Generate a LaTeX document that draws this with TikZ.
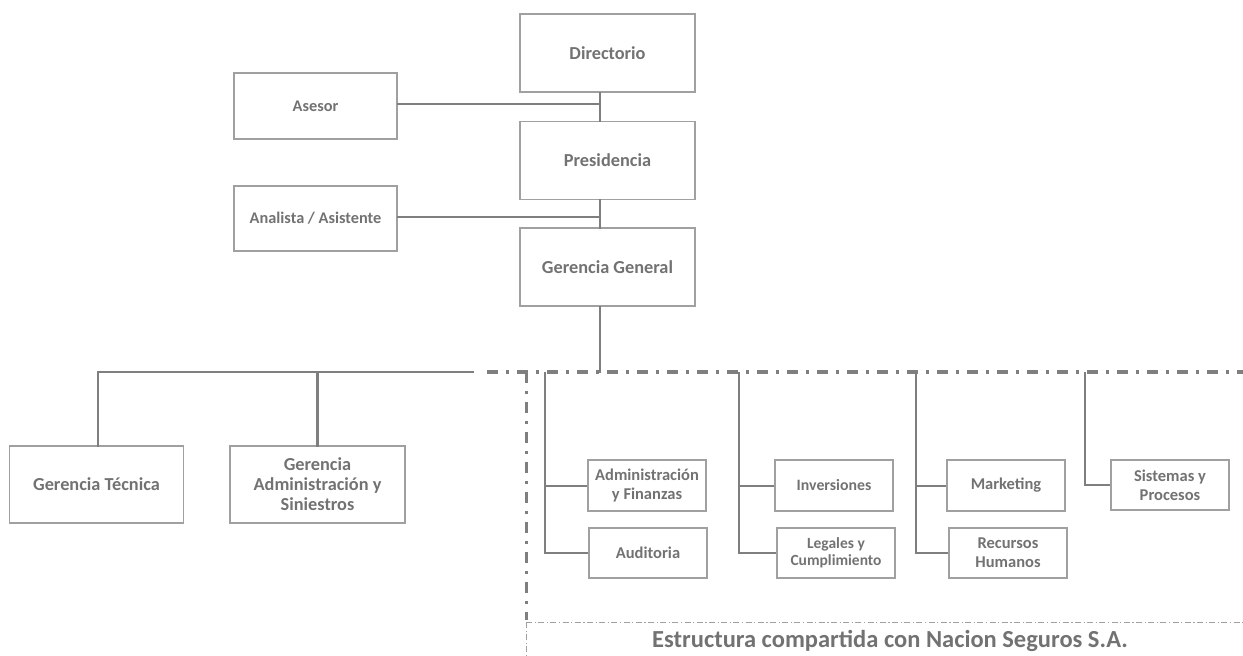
\documentclass[tikz,border=0pt]{standalone}
\usepackage{fontspec}
\setmainfont{Carlito}
\definecolor{txtgray}{HTML}{727272}
\definecolor{boxgray}{HTML}{A0A0A0}
\definecolor{lngray}{HTML}{7F7F7F}
\begin{document}
\begin{tikzpicture}[x=1pt,y=-1pt,
  box/.style={draw=boxgray,line width=1.4pt,rectangle,inner sep=0pt,align=center,
    text=txtgray,font=\bfseries},
  bigbox/.style={box,minimum width=175pt,minimum height=78pt,font=\fontsize{18.3}{20}\selectfont\bfseries},
  sidebox/.style={box,minimum width=163pt,minimum height=66pt,font=\fontsize{16.3}{19}\selectfont\bfseries},
  subbox/.style={box,minimum width=118pt,minimum height=51pt,font=\fontsize{16.5}{19}\selectfont\bfseries},
  conn/.style={draw=lngray,line width=2.4pt,line cap=rect},
  thinconn/.style={draw=lngray,line width=2pt},
  thickdd/.style={draw=lngray,line width=4pt,dash pattern=on 11pt off 8pt on 3pt off 8pt},
  vertdd/.style={draw=lngray,line width=3pt,dash pattern=on 11pt off 8pt on 3pt off 8pt},
  thindd/.style={draw=boxgray,line width=1pt,dash pattern=on 6pt off 2.5pt on 1.2pt off 2.5pt}]
\useasboundingbox (0,0) rectangle (1243,656);

% top chain
\node[bigbox] (dir) at (607.5,53) {Directorio};
\node[bigbox] (pres) at (607.5,160.5) {Presidencia};
\node[bigbox] (gg) at (607.5,267) {Gerencia General};
\node[sidebox] (ase) at (315.5,106) {Asesor};
\node[sidebox,minimum height=65pt] (ana) at (315.5,218.5) {Analista / Asistente};
\coordinate (sp) at (600,0);
\coordinate (hb) at (600,372);

\draw[conn] (dir.south -| sp) -- (pres.north -| sp);
\draw[conn] (pres.south -| sp) -- (gg.north -| sp);
\draw[conn] (gg.south -| sp) -- (hb);
\draw[conn] (ase.east |- 0,104) -- (sp |- 0,104);
\draw[conn] (ana.east |- 0,217) -- (sp |- 0,217);

% left managements
\node[bigbox,minimum width=174pt,minimum height=77pt] (gt) at (96.5,484.5) {Gerencia Técnica};
\node[bigbox,minimum height=77pt] (ga) at (317.5,484.5) {Gerencia\\Administración y\\Siniestros};
\coordinate (hl) at (98,372);
\coordinate (hr) at (473,372);
\draw[conn] (hl) -- (hr);
\draw[conn] (hl) -- (hl |- gt.north);
\draw[conn] (ga.north |- hl) -- (ga.north);

% dash-dot shared structure
\coordinate (ds) at (487,372);
\coordinate (de) at (1243,372);
\coordinate (vt) at (526,372);
\coordinate (vb) at (526,620);
\coordinate (tc) at (526,622);
\coordinate (tr) at (1243,622);
\coordinate (tb) at (526,656);
\draw[thickdd] (ds) -- (de);
\draw[vertdd] (vt) -- (vb);
\draw[thindd] (tc) -- (tr);
\draw[thindd] (tc) -- (tb);

% right boxes
\node[subbox] (adm) at (647,485.5) {Administración\\y Finanzas};
\node[subbox,minimum height=50pt] (aud) at (648,553) {Auditoria};
\node[subbox,font=\fontsize{15.8}{18}\selectfont\bfseries] (inv) at (834,485.5) {Inversiones};
\node[subbox,minimum height=50pt,font=\fontsize{15.5}{17}\selectfont\bfseries] (leg) at (836,553) {Legales y\\Cumplimiento};
\node[subbox] (mkt) at (1006,485.5) {Marketing};
\node[subbox,minimum height=50pt] (rrhh) at (1008,553) {Recursos\\Humanos};
\node[subbox,minimum height=50pt] (sis) at (1170,485) {Sistemas y\\Procesos};

\coordinate (c1) at (545,372);
\coordinate (c2) at (739,372);
\coordinate (c3) at (916,372);
\coordinate (c4) at (1085,372);
\draw[thinconn] (c1) -- (c1 |- aud.west) -- (aud.west);
\draw[thinconn] (c1 |- adm.west) -- (adm.west);
\draw[thinconn] (c2) -- (c2 |- leg.west) -- (leg.west);
\draw[thinconn] (c2 |- inv.west) -- (inv.west);
\draw[thinconn] (c3) -- (c3 |- rrhh.west) -- (rrhh.west);
\draw[thinconn] (c3 |- mkt.west) -- (mkt.west);
\draw[thinconn] (c4) -- (c4 |- sis.west) -- (sis.west);

\node[text=txtgray,font=\fontsize{24.5}{28}\selectfont\bfseries,inner sep=0pt] (foot) at (890,641) {Estructura compartida con Nacion Seguros S.A.};
\end{tikzpicture}
\end{document}
